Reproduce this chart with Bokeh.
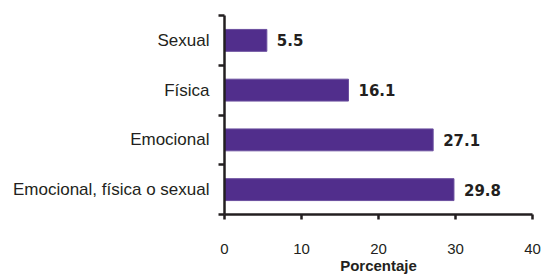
from bokeh.plotting import figure
from bokeh.models import ColumnDataSource, FixedTicker, Range1d
from bokeh.core.properties import value
from bokeh.embed import file_html
from bokeh.resources import INLINE

categories = ["Emocional, física o sexual", "Emocional", "Física", "Sexual"]
values = [29.8, 27.1, 16.1, 5.5]
labels = ["29.8", "27.1", "16.1", "5.5"]
x_ticks = [0, 10, 20, 30, 40]

positions = [i + 0.5 for i in range(len(categories))]
src = ColumnDataSource(dict(y=positions, v=values, lab=labels))

p = figure(width=542, height=276, output_backend="svg", toolbar_location=None,
           x_range=Range1d(0, 40), y_range=Range1d(0, len(categories)),
           min_border_left=224, min_border_right=10, min_border_top=15, min_border_bottom=51)
p.outline_line_color = None
p.grid.visible = False
p.background_fill_color = "white"
p.border_fill_color = "white"

p.hbar(y="y", right="v", left=0, height=0.44, source=src,
       fill_color="#512E8C", line_color="#6A4E9E", line_width=1)
p.text(x="v", y="y", text="lab", source=src, x_offset=10,
       text_align="left", text_baseline="middle",
       text_font=value("DejaVu Sans"), text_font_style="bold",
       text_font_size="15px", text_color="#231F20")

xa = p.xaxis[0]
xa.ticker = FixedTicker(ticks=x_ticks)
xa.axis_line_width = 2.5
xa.axis_line_color = "#231F20"
xa.major_tick_line_width = 2.5
xa.major_tick_line_color = "#231F20"
xa.major_tick_out = 5
xa.major_tick_in = 0
xa.minor_tick_line_color = None
xa.major_label_text_font = "Liberation Sans"
xa.major_label_text_font_size = "15px"
xa.major_label_text_color = "#231F20"
xa.major_label_standoff = 24
xa.axis_label = "Porcentaje"
xa.axis_label_text_font = "Liberation Sans"
xa.axis_label_text_font_style = "bold"
xa.axis_label_text_font_size = "15px"
xa.axis_label_text_color = "#231F20"
xa.axis_label_standoff = 0

ya = p.yaxis[0]
ya.ticker = FixedTicker(ticks=positions, minor_ticks=list(range(len(categories) + 1)))
ya.major_label_overrides = {pos: c for pos, c in zip(positions, categories)}
ya.axis_line_width = 2.5
ya.axis_line_color = "#231F20"
ya.major_tick_out = 0
ya.major_tick_in = 0
ya.major_tick_line_color = None
ya.minor_tick_out = 6
ya.minor_tick_in = 0
ya.minor_tick_line_width = 2.5
ya.minor_tick_line_color = "#231F20"
ya.major_label_text_font = "Liberation Sans"
ya.major_label_text_font_size = "17px"
ya.major_label_text_color = "#231F20"
ya.major_label_standoff = 9

open("out.html", "w").write(file_html(p, INLINE))
